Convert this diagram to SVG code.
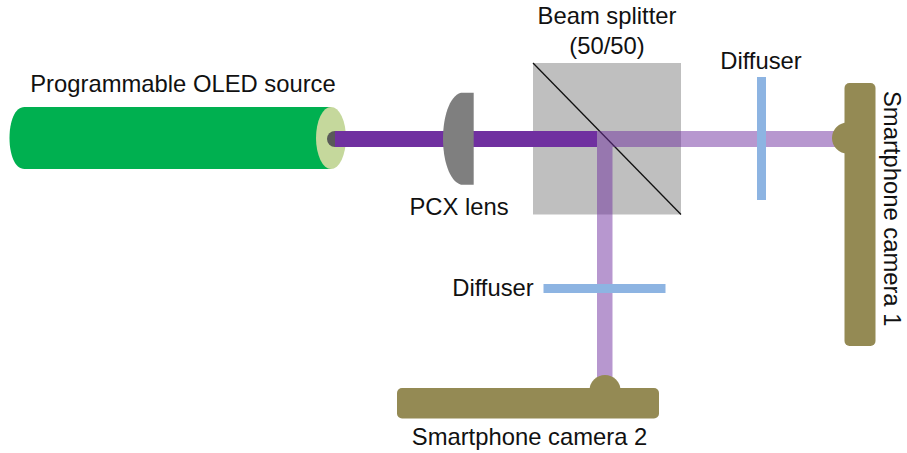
<svg xmlns="http://www.w3.org/2000/svg" width="907" height="453" viewBox="0 0 907 453">
<style>
text{font-family:"Liberation Sans",Arial,sans-serif;font-size:23.800px;fill:#111}
.m{text-anchor:middle}
.olive{fill:#948A54}
.diff{fill:#8DB4E2}
</style>
<rect width="907" height="453" fill="#fff"/>
<g id="oled-source">
<path d="M331 107H24.500C14.500 107 9.500 122 9.500 138S14.500 169 24.500 169H331Z" fill="#00B050"/>
<ellipse cx="331" cy="138" rx="15" ry="31" fill="#C5D89C"/>
<path d="M335 131A8 8 0 0 0 335 147Z" fill="#595959"/>
<text x="183" y="92" class="m">Programmable OLED source</text>
</g>
<g id="beam-splitter">
<rect x="533" y="63" width="148" height="151.500" fill="#BFBFBF"/>
<line x1="533" y1="63" x2="681" y2="214.500" stroke="#111" stroke-width="1.300"/>
<text x="607" y="24" class="m">Beam splitter</text>
<text x="607" y="54" class="m">(50/50)</text>
</g>
<g id="connectors">
<rect x="335" y="131" width="262" height="16" fill="#7030A0"/>
<path d="M597 131H835V147H612.500V378H597Z" fill="#7030A0" fill-opacity=".5"/>
</g>
<g id="pcx-lens">
<path d="M473.700 92.700H461C449 96 443 118 443 138.700S449 181 461 184.700H473.700Z" fill="#7F7F7F"/>
<text x="459" y="215" class="m">PCX lens</text>
</g>
<g id="diffuser-1">
<rect x="757" y="77" width="9" height="123" class="diff"/>
<text x="761" y="69" class="m">Diffuser</text>
</g>
<g id="diffuser-2">
<rect x="543.500" y="284" width="122" height="9" class="diff"/>
<text x="493" y="296" class="m">Diffuser</text>
</g>
<g id="camera-1">
<circle cx="847.500" cy="138" r="15.500" class="olive"/>
<rect x="844.500" y="83" width="31" height="263" rx="5" class="olive"/>
<text transform="translate(884 91) rotate(90)">Smartphone camera 1</text>
</g>
<g id="camera-2">
<circle cx="605" cy="390.500" r="15.500" class="olive"/>
<rect x="397" y="388" width="262" height="30.500" rx="5" class="olive"/>
<text x="529.500" y="445" class="m">Smartphone camera 2</text>
</g>
</svg>
